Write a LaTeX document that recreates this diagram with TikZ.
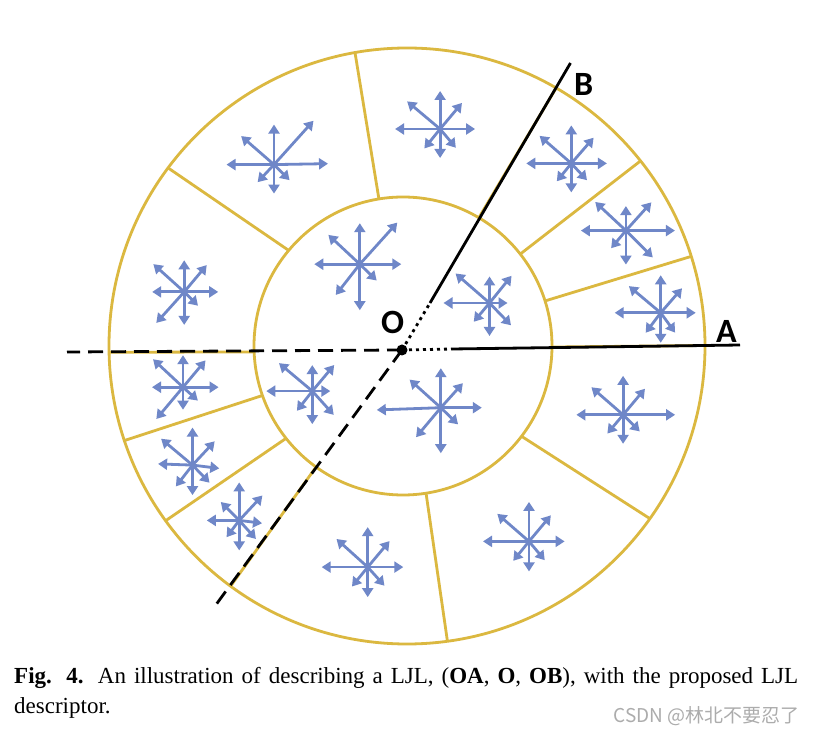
\documentclass[tikz,border=0pt]{standalone}
\usepackage{fontspec}
\usetikzlibrary{arrows.meta}
\newfontfamily\labelfont{Carlito}
\newfontfamily\capfont{Liberation Serif}
\newfontfamily\cjkfont{Noto Sans CJK SC}
\definecolor{ringyellow}{RGB}{219,184,64}
\definecolor{rayblue}{RGB}{111,135,200}
\newcommand{\ljlstar}[2]{%
  \foreach \ang/\len in {#2}
    \draw[ray] (#1) -- ++(\ang:\len);
}

\begin{document}
\begin{tikzpicture}[
    x=1pt, y=1pt,
    ray/.style={
      rayblue,
      line width=2.8pt,
      -{Triangle[length=9pt, width=11pt]}
    },
    ring/.style={
      ringyellow,
      line width=2.8pt
    },
    legsolid/.style={line width=2.8pt, black},
    legdashed/.style={line width=2.8pt, black, dash pattern=on 15pt off 8pt},
    legdotted/.style={line width=2.8pt, black, dash pattern=on 3pt off 4pt},
    ptlabel/.style={
      font=\labelfont\bfseries\fontsize{34}{34}\selectfont,
      inner sep=0pt
    }
  ]
  \fill[white] (0,0) rectangle (814,734);
  \useasboundingbox (0,0) rectangle (814,734);

  % circles
  \coordinate (Ci) at (403,388);
  \coordinate (Co) at (407,388);
  \draw[ring] (Co) circle (298);
  \draw[ring] (Ci) circle (149);

  % sector borders of the outer ring
  \foreach \ai/\ao in {99.3/100.05, 140.1/143.3, 199.4/198.5, 218.3/215.9,
                       278.9/277.8, 322.7/324.6, 17.6/17.5, 38.1/38.4,
                       -0.4/0.1, 59.4/59.97, 182.3/181.2, 234.3/233.7}
    \draw[ring] ([shift={(\ai:149)}]Ci) -- ([shift={(\ao:298)}]Co);

  % the junction
  \coordinate (O) at (402,384);
  \coordinate (Adot) at (452,385);
  \coordinate (Aend) at (740,389);
  \coordinate (Bdot) at (430,431);
  \coordinate (Bend) at (570.5,671);
  \coordinate (Lend) at (67,382);
  \coordinate (Dend) at (215.5,128.6);

  \draw[legdotted] (O) -- (Adot);
  \draw[legsolid] (Adot) -- (Aend);
  \draw[legdotted] (O) -- (Bdot);
  \draw[legsolid] (Bdot) -- (Bend);
  \draw[legdashed] (O) -- (Lend);
  \draw[legdashed] (O) -- (Dend);
  \fill (O) circle (5.5);

  \node[ptlabel] (Olab) at (392.5,411.7) {O};
  \node[ptlabel] (Alab) at (726.5,403) {A};
  \node[ptlabel] (Blab) at (583.7,650) {B};

  % gradient stars, outer ring
  \coordinate (S1) at (660.7,421.2);
  \coordinate (S2) at (625.9,503.4);
  \coordinate (S3) at (571.3,570.6);
  \coordinate (S4) at (440.1,605);
  \coordinate (S5) at (274,569.4);
  \coordinate (S6) at (184.2,442.1);
  \coordinate (S7) at (183,346.8);
  \coordinate (S8) at (192.5,268.9);
  \coordinate (S9) at (239.2,213.6);
  \coordinate (S10) at (367.7,166.9);
  \coordinate (S11) at (529,192.6);
  \coordinate (S12) at (623.1,319.2);
  % gradient stars, inner disc
  \coordinate (I1) at (359.8,469.8);
  \coordinate (I2) at (489.5,431);
  \coordinate (I3) at (312.3,342.9);
  \coordinate (I4) at (440.8,326.3);

  \ljlstar{S1}{0/35, 49/32.5, 90/37.5, 140/41.5, 180/46, 233/25, 270/30, 306/24.5}
  \ljlstar{S2}{0/49, 48/38, 90/24.5, 137/42, 180/45, 230/23, 270/34, 315/38}
  \ljlstar{S3}{0/35.6, 49/34, 90/38, 139/42, 180/45, 231/23, 270/29, 313/23}
  \ljlstar{S4}{0/35, 50/34, 90/38, 140/43, 180/45, 231/25, 270/29, 310/24.5}
  \ljlstar{S5}{1/54, 48/59, 90/40, 139/43.5, 180/47.5, 227/24, 270/29, 315/22}
  \ljlstar{S6}{0/34, 50/35, 90/31.6, 138/41.5, 180/32, 228/41.7, 270/33, 315/19.5}
  \ljlstar{S7}{0/35.6, 50/35, 90/32, 137/41, 180/31, 230/41.5, 270/22.5, 318/20}
  \ljlstar{S8}{353/27, 47/32.5, 90/37.5, 140/41, 178/34.4, 232/27, 270/30, 314/24.5}
  \ljlstar{S9}{353/23, 47/34, 90/38, 135/26, 180/32.4, 233/21, 270/30, 312/25}
  \ljlstar{S10}{0/35.6, 50/34, 90/40, 138/42, 180/46, 231/25, 270/30, 312/25}
  \ljlstar{S11}{0/35.6, 50/34, 90/39.5, 139/42, 180/46, 231/25, 270/30, 310/24.5}
  \ljlstar{S12}{0/52, 50/34, 90/39, 139/42, 180/46.7, 230/24.5, 270/29, 315/23.5}
  \ljlstar{I1}{0/41.5, 48/56, 90/41, 137/43, 180/45.5, 232/39, 270/46, 316/23.5}
  \ljlstar{I2}{0/18, 51/35, 90/26.5, 139/45, 180/46, 230/24.5, 270/33, 314/31}
  \ljlstar{I3}{0/18, 50/34, 90/26, 140/43.5, 180/46, 232/25, 270/33, 312/32}
  \ljlstar{I4}{0/41, 48/33, 90/39.5, 138/42, 182/64, 230/38.5, 270/45.5, 316/24}

  % caption
  \node[anchor=base west, inner sep=0pt, text width=784pt, align=justify,
        font=\capfont\fontsize{23}{30}\selectfont] (caption) at (14,51)
    {\textbf{Fig. 4.} An illustration of describing a LJL, (\textbf{OA}, \textbf{O}, \textbf{OB}), with the proposed LJL\linebreak descriptor.};
  \node[anchor=base east, inner sep=0pt, text=gray!65,
        font=\cjkfont\fontsize{19}{19}\selectfont] (mark) at (800,12)
    {CSDN @林北不要忍了};
\end{tikzpicture}
\end{document}
